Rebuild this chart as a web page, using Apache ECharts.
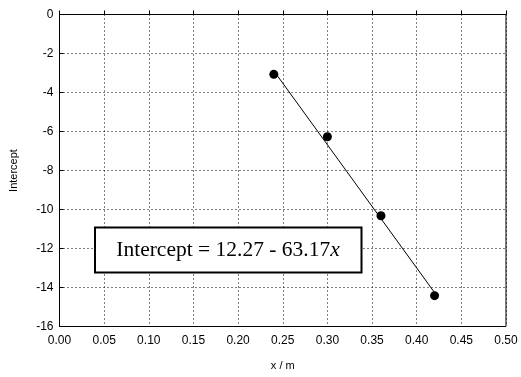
<!DOCTYPE html>
<html><head><meta charset="utf-8">
<script src="https://cdn.jsdelivr.net/npm/echarts@6/dist/echarts.min.js"></script>
<style>html,body{margin:0;padding:0;background:#fff}#c{width:521px;height:377px}</style>
</head><body><div id="c"></div>
<script>
var xPoints = [0.24, 0.30, 0.36, 0.42];
var yPoints = [-3.07, -6.27, -10.32, -14.42];
var fitX = [0.24, 0.42];
var fitY = [-2.89, -14.26];
var xLabel = 'x / m';
var yLabel = 'Intercept';
var boxText = ['Intercept = 12.27 - 63.17', 'x'];

var chart = echarts.init(document.getElementById('c'), null, {renderer: 'canvas'});
var font = 'Liberation Sans, Arial, sans-serif';
var gridLine = {show: true, lineStyle: {color: '#000', width: 1, type: [1, 3]}};
chart.setOption({
  animation: false,
  backgroundColor: '#fff',
  grid: {left: 59.5, right: 15, top: 14.5, bottom: 50.5, show: true, borderColor: '#000', borderWidth: 1},
  xAxis: {
    type: 'value', min: 0, max: 0.5, interval: 0.05,
    name: xLabel, nameLocation: 'middle', nameGap: 34,
    nameTextStyle: {color: '#000', fontFamily: font, fontSize: 11},
    axisLine: {lineStyle: {color: '#000', width: 1}},
    axisTick: {inside: true, length: 4, lineStyle: {color: '#000'}},
    axisLabel: {color: '#000', fontFamily: font, fontSize: 12, margin: 8, formatter: function(v){return v.toFixed(2);}},
    splitLine: gridLine
  },
  yAxis: {
    type: 'value', min: -16, max: 0, interval: 2,
    name: yLabel, nameLocation: 'middle', nameGap: 40, nameRotate: 90,
    nameTextStyle: {color: '#000', fontFamily: font, fontSize: 11},
    axisLine: {lineStyle: {color: '#000', width: 1}},
    axisTick: {inside: true, length: 4, lineStyle: {color: '#000'}},
    axisLabel: {color: '#000', fontFamily: font, fontSize: 12, margin: 6},
    splitLine: gridLine
  },
  series: [
    {type: 'line', data: fitX.map(function(x, i){return [x, fitY[i]];}), showSymbol: false, symbol: 'none',
     lineStyle: {color: '#000', width: 1}, z: 3},
    {type: 'scatter', data: xPoints.map(function(x, i){return [x, yPoints[i]];}), symbol: 'circle', symbolSize: 9,
     itemStyle: {color: '#000', opacity: 1}, z: 4}
  ],
  graphic: [
    {type: 'rect', z: 10, shape: {x: 95, y: 227.5, width: 266.5, height: 45},
     style: {fill: '#fff', stroke: '#000', lineWidth: 2}},
    {type: 'text', z: 11, x: 228, y: 250,
     style: {text: '{a|' + boxText[0] + '}{b|' + boxText[1] + '}', align: 'center', verticalAlign: 'middle',
       rich: {a: {fontFamily: 'Liberation Serif, Times New Roman, serif', fontSize: 21.5, fill: '#000'},
              b: {fontFamily: 'Liberation Serif, Times New Roman, serif', fontSize: 21.5, fontStyle: 'italic', fill: '#000'}}}}
  ]
});
</script></body></html>
